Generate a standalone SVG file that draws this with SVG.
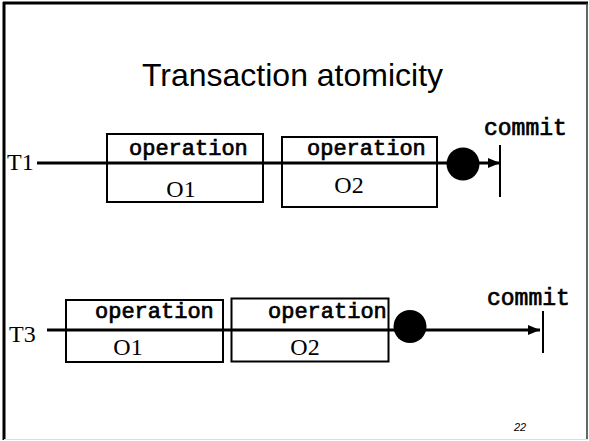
<svg xmlns="http://www.w3.org/2000/svg" width="589" height="441" viewBox="0 0 589 441">
<style>
.box{fill:none;stroke:#000;stroke-width:2}
.tl{stroke:#000;stroke-width:3;fill:none}
.op{font-family:"Liberation Mono","Courier New",monospace;font-size:22px;fill:#000;stroke:#000;stroke-width:0.7}
.cm{font-family:"Liberation Mono","Courier New",monospace;font-size:23px;fill:#000;stroke:#000;stroke-width:0.7}
.tm{font-family:"Liberation Serif","Times New Roman",serif;font-size:24px;fill:#000}
.title{font-family:"Liberation Sans",Arial,sans-serif;font-size:32px;fill:#000}
</style>
<defs>
<marker id="ah" markerWidth="12" markerHeight="10" refX="12" refY="5" orient="auto" markerUnits="userSpaceOnUse">
<path d="M0,0 L12,5 L0,10 Z" fill="#000"/>
</marker>
</defs>
<rect x="0" y="0" width="589" height="441" fill="#fff"/>
<g id="frame">
<line x1="3" y1="3" x2="588" y2="3" stroke="#000" stroke-width="3"/>
<line x1="4" y1="2" x2="4" y2="440" stroke="#000" stroke-width="3"/>
<line x1="587" y1="3" x2="587" y2="439" stroke="#333" stroke-width="1.5"/>
<line x1="4" y1="439.5" x2="588" y2="439.5" stroke="#ddd" stroke-width="1"/>
</g>
<text id="title" class="title" x="292.5" y="86" text-anchor="middle">Transaction atomicity</text>
<g id="connectors">
<line class="tl" x1="37" y1="163" x2="500" y2="163" marker-end="url(#ah)"/>
<line class="tl" x1="47" y1="330" x2="540" y2="330" marker-end="url(#ah)"/>
</g>
<g id="t1-label"><text class="tm" x="7" y="170">T1</text></g>
<g id="t1-op1">
<rect class="box" x="107" y="134" width="156" height="68"/>
<text class="op" x="129" y="155">operation</text>
<text class="tm" x="181" y="197" text-anchor="middle">O1</text>
</g>
<g id="t1-op2">
<rect class="box" x="282" y="137" width="155" height="70"/>
<text class="op" x="307" y="155">operation</text>
<text class="tm" x="349" y="193" text-anchor="middle">O2</text>
</g>
<g id="t1-dot"><circle cx="463" cy="164" r="16.5" fill="#000"/></g>
<g id="t1-commit">
<line x1="500" y1="145" x2="500" y2="197" stroke="#000" stroke-width="2"/>
<text class="cm" x="484" y="135">commit</text>
</g>
<g id="t3-label"><text class="tm" x="9" y="342">T3</text></g>
<g id="t3-op1">
<rect class="box" x="66" y="300" width="157" height="62"/>
<text class="op" x="95" y="318">operation</text>
<text class="tm" x="128" y="355" text-anchor="middle">O1</text>
</g>
<g id="t3-op2">
<rect class="box" x="231.5" y="298.5" width="157" height="63"/>
<text class="op" x="268" y="318">operation</text>
<text class="tm" x="305" y="355" text-anchor="middle">O2</text>
</g>
<g id="t3-dot"><circle cx="410" cy="326.5" r="16.5" fill="#000"/></g>
<g id="t3-commit">
<line x1="543" y1="311" x2="543" y2="353" stroke="#000" stroke-width="2"/>
<text class="cm" x="487" y="305">commit</text>
</g>
<text id="page" x="514" y="431" font-family="'Liberation Sans',Arial,sans-serif" font-style="italic" font-size="11" fill="#000">22</text>
</svg>
